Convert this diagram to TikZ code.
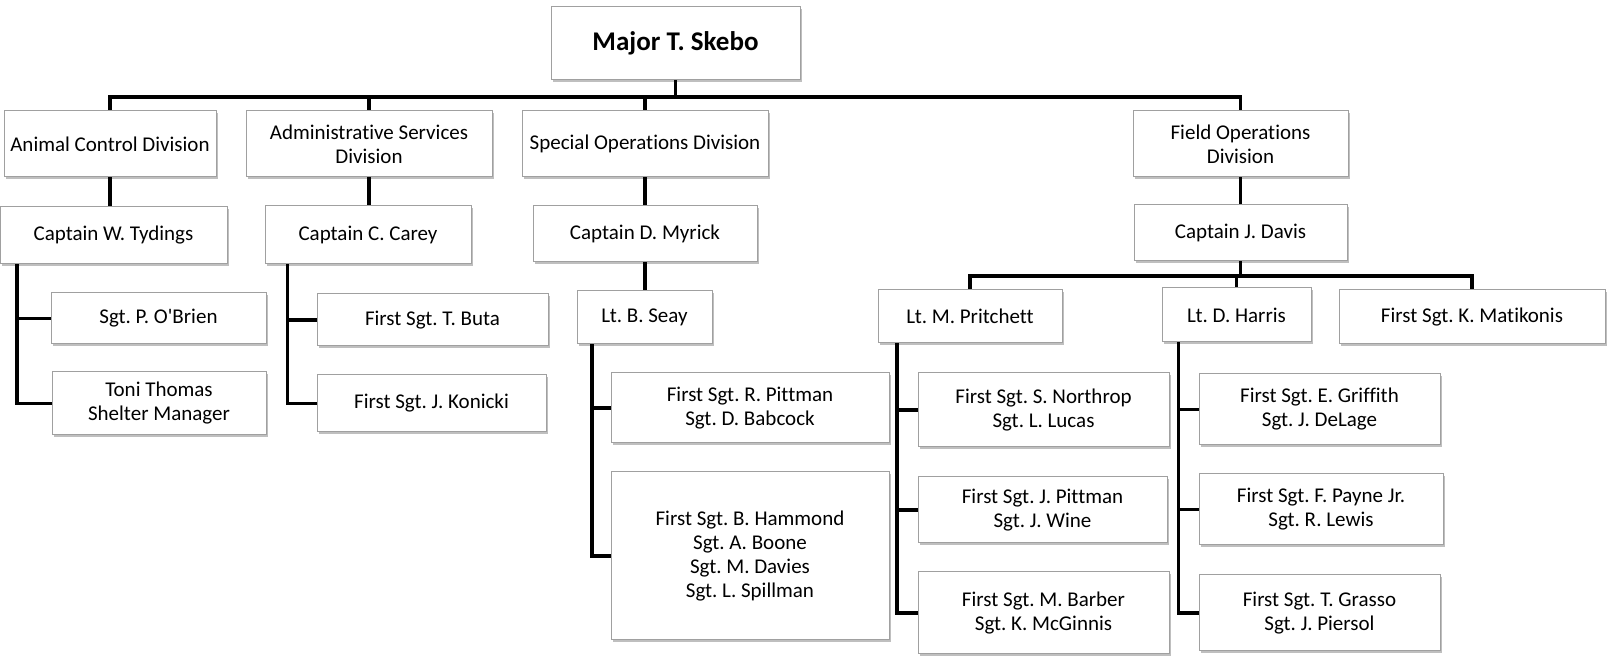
\documentclass[tikz,border=0pt]{standalone}
\usepackage{fontspec}
\setmainfont[Ligatures=NoCommon]{Carlito}
\usepackage{tikz}
\usetikzlibrary{shadows}
\frenchspacing

\definecolor{boxgray}{HTML}{A0A0A0}

\begin{document}
\begin{tikzpicture}[
  x=0.5pt, y=-0.5pt, % one unit is one pixel of the original chart, y runs downwards
  box/.style={draw=boxgray, fill=white, line width=0.5pt, inner sep=0pt, align=center,
    font=\fontsize{10.5}{12}\selectfont,
    drop shadow={shadow xshift=0.8pt, shadow yshift=-0.8pt, fill=black, opacity=0.25}},
  conn/.style={line width=1.6pt},
  thick]

  \useasboundingbox (0,0) rectangle (1607,656);

  % top of the chart
  \node[box, minimum width=124.5pt, minimum height=36.5pt, font=\fontsize{13.5}{16}\selectfont\bfseries] (major) at (675.5,43.5) {Major T. Skebo};

  % divisions
  \node[box, minimum width=106pt, minimum height=33pt] (animal) at (110,144) {Animal Control Division};
  \node[box, minimum width=123pt, minimum height=33pt] (admin) at (369,144) {Administrative Services\\Division};
  \node[box, minimum width=123pt, minimum height=33pt] (specops) at (645,144) {Special Operations Division};
  \node[box, minimum width=107.5pt, minimum height=33pt] (fieldops) at (1240.5,144) {Field Operations\\Division};

  % captains
  \node[box, minimum width=113.5pt, minimum height=28.5pt] (tydings) at (113.5,235.5) {Captain W. Tydings};
  \node[box, minimum width=103pt, minimum height=29pt] (carey) at (368,235) {Captain C. Carey};
  \node[box, minimum width=112pt, minimum height=28pt] (myrick) at (645,234) {Captain D. Myrick};
  \node[box, minimum width=106.5pt, minimum height=28pt] (davis) at (1240.5,233) {Captain J. Davis};

  % animal control
  \node[box, minimum width=107.5pt, minimum height=25.5pt] (obrien) at (158.5,318.5) {Sgt. P. O\textquotesingle Brien};
  \node[box, minimum width=107pt, minimum height=31.5pt] (toni) at (159,403.5) {Toni Thomas\\Shelter Manager};

  % administrative services
  \node[box, minimum width=115.5pt, minimum height=26pt] (buta) at (432.5,320) {First Sgt. T. Buta};
  \node[box, minimum width=114.5pt, minimum height=28.5pt] (konicki) at (431.5,403.5) {First Sgt. J. Konicki};

  % special operations
  \node[box, minimum width=67.5pt, minimum height=26.5pt] (seay) at (644.5,317.5) {Lt. B. Seay};
  \node[box, minimum width=139pt, minimum height=35pt] (rpittman) at (750,408) {First Sgt. R. Pittman\\Sgt. D. Babcock};
  \node[box, minimum width=139pt, minimum height=84pt] (hammond) at (750,556) {First Sgt. B. Hammond\\Sgt. A. Boone\\Sgt. M. Davies\\Sgt. L. Spillman};

  % field operations
  \node[box, minimum width=92pt, minimum height=26.5pt] (pritchett) at (970,316.5) {Lt. M. Pritchett};
  \node[box, minimum width=74.5pt, minimum height=27pt] (harris) at (1236.5,315) {Lt. D. Harris};
  \node[box, minimum width=133pt, minimum height=27pt] (matikonis) at (1472,317) {First Sgt. K. Matikonis};

  \node[box, minimum width=125.5pt, minimum height=37pt] (northrop) at (1043.5,410) {First Sgt. S. Northrop\\Sgt. L. Lucas};
  \node[box, minimum width=124.5pt, minimum height=33pt] (jpittman) at (1042.5,510) {First Sgt. J. Pittman\\Sgt. J. Wine};
  \node[box, minimum width=125.5pt, minimum height=41pt] (barber) at (1043.5,613) {First Sgt. M. Barber\\Sgt. K. McGinnis};

  \node[box, minimum width=120.5pt, minimum height=35.5pt] (griffith) at (1319.5,409.5) {First Sgt. E. Griffith\\Sgt. J. DeLage};
  \node[box, minimum width=122pt, minimum height=35.5pt] (payne) at (1321,509.5) {First Sgt. F. Payne Jr.\\Sgt. R. Lewis};
  \node[box, minimum width=120.5pt, minimum height=38pt] (grasso) at (1319.5,613) {First Sgt. T. Grasso\\Sgt. J. Piersol};

  % bus lines and side lines
  \coordinate (topbus) at (0,97);
  \coordinate (fieldbus) at (0,276);
  \coordinate (tydx) at (17,0);
  \coordinate (careyx) at (287.5,0);
  \coordinate (seayx) at (592,0);
  \coordinate (pritchx) at (897,0);
  \coordinate (harrisx) at (1178.5,0);

  \draw[conn] (major.south) |- (animal.north |- topbus) -- (animal.north);
  \draw[conn] (major.south) |- (admin.north |- topbus) -- (admin.north);
  \draw[conn] (major.south) |- (specops.north |- topbus) -- (specops.north);
  \draw[conn] (major.south) |- (fieldops.north |- topbus) -- (fieldops.north);

  \draw[conn] (animal.south) -- (animal.south |- tydings.north);
  \draw[conn] (admin.south) -- (admin.south |- carey.north);
  \draw[conn] (specops.south) -- (specops.south |- myrick.north);
  \draw[conn] (myrick.south) -- (myrick.south |- seay.north);
  \draw[conn] (fieldops.south) -- (fieldops.south |- davis.north);

  \draw[conn] (davis.south) |- (pritchett.north |- fieldbus) -- (pritchett.north);
  \draw[conn] (davis.south) |- (harris.north |- fieldbus) -- (harris.north);
  \draw[conn] (davis.south) |- (matikonis.north |- fieldbus) -- (matikonis.north);

  \draw[conn] (tydx |- tydings.south) |- (toni.west);
  \draw[conn] (tydx |- obrien.west) -- (obrien.west);

  \draw[conn] (careyx |- carey.south) |- (konicki.west);
  \draw[conn] (careyx |- buta.west) -- (buta.west);

  \draw[conn] (seayx |- seay.south) |- (hammond.west);
  \draw[conn] (seayx |- rpittman.west) -- (rpittman.west);

  \draw[conn] (pritchx |- pritchett.south) |- (barber.west);
  \draw[conn] (pritchx |- northrop.west) -- (northrop.west);
  \draw[conn] (pritchx |- jpittman.west) -- (jpittman.west);

  \draw[conn] (harrisx |- harris.south) |- (grasso.west);
  \draw[conn] (harrisx |- griffith.west) -- (griffith.west);
  \draw[conn] (harrisx |- payne.west) -- (payne.west);
\end{tikzpicture}
\end{document}
